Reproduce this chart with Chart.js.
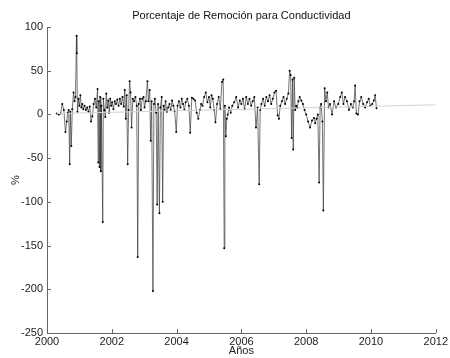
<!DOCTYPE html>
<html>
<head>
<meta charset="utf-8">
<script src="https://cdn.jsdelivr.net/npm/chart.js@4"></script>
<style>
  html, body { margin: 0; padding: 0; background: #fff; }
  #wrap { width: 450px; height: 358px; }
</style>
</head>
<body>
<div id="wrap"><canvas id="grafico"></canvas></div>
<script>
var fontFamily = '"Liberation Sans", Arial, Helvetica, sans-serif';

var titulo = 'Porcentaje de Remoción para Conductividad';

// fecha (años decimales) y % de remoción
var anios = [
    2000.30, 2000.36, 2000.42, 2000.47, 2000.52, 2000.57, 2000.61, 2000.64, 2000.67, 2000.70,
    2000.72, 2000.75, 2000.78, 2000.82, 2000.85, 2000.88, 2000.91, 2000.92, 2000.94, 2000.97,
    2001.00, 2001.03, 2001.06, 2001.09, 2001.12, 2001.16, 2001.20, 2001.24, 2001.28, 2001.32,
    2001.36, 2001.40, 2001.44, 2001.48, 2001.52, 2001.56, 2001.58, 2001.60, 2001.62, 2001.64,
    2001.66, 2001.68, 2001.72, 2001.74, 2001.77, 2001.80, 2001.83, 2001.86, 2001.89, 2001.92,
    2001.95, 2001.98, 2002.01, 2002.05, 2002.09, 2002.13, 2002.17, 2002.21, 2002.25, 2002.29,
    2002.33, 2002.37, 2002.40, 2002.43, 2002.46, 2002.49, 2002.52, 2002.55, 2002.58, 2002.61,
    2002.65, 2002.69, 2002.73, 2002.77, 2002.80, 2002.83, 2002.87, 2002.90, 2002.94, 2002.98,
    2003.01, 2003.05, 2003.10, 2003.13, 2003.17, 2003.20, 2003.23, 2003.27, 2003.30, 2003.33,
    2003.37, 2003.40, 2003.43, 2003.47, 2003.50, 2003.54, 2003.57, 2003.60, 2003.63, 2003.66,
    2003.70, 2003.74, 2003.78, 2003.82, 2003.86, 2003.90, 2003.94, 2003.99, 2004.03, 2004.07,
    2004.12, 2004.16, 2004.20, 2004.24, 2004.28, 2004.33, 2004.38, 2004.42, 2004.47, 2004.52,
    2004.57, 2004.62, 2004.67, 2004.72, 2004.76, 2004.80, 2004.85, 2004.90, 2004.95, 2005.00,
    2005.04, 2005.08, 2005.12, 2005.16, 2005.20, 2005.25, 2005.30, 2005.35, 2005.40, 2005.44,
    2005.47, 2005.49, 2005.52, 2005.55, 2005.58, 2005.62, 2005.67, 2005.72, 2005.78, 2005.84,
    2005.90, 2005.95, 2006.00, 2006.05, 2006.10, 2006.15, 2006.20, 2006.25, 2006.30, 2006.35,
    2006.40, 2006.45, 2006.50, 2006.55, 2006.58, 2006.62, 2006.67, 2006.72, 2006.77, 2006.82,
    2006.87, 2006.92, 2006.97, 2007.02, 2007.07, 2007.12, 2007.16, 2007.20, 2007.25, 2007.30,
    2007.35, 2007.40, 2007.45, 2007.49, 2007.52, 2007.55, 2007.58, 2007.60, 2007.63, 2007.66,
    2007.69, 2007.72, 2007.76, 2007.80, 2007.85, 2007.90, 2007.95, 2008.00, 2008.06, 2008.12,
    2008.18, 2008.24, 2008.28, 2008.32, 2008.36, 2008.40, 2008.43, 2008.46, 2008.50, 2008.53,
    2008.57, 2008.61, 2008.65, 2008.69, 2008.74, 2008.80, 2008.86, 2008.92, 2008.99, 2009.05,
    2009.10, 2009.15, 2009.20, 2009.26, 2009.32, 2009.38, 2009.44, 2009.48, 2009.51, 2009.55,
    2009.60, 2009.65, 2009.70, 2009.76, 2009.82, 2009.88, 2009.93, 2009.98, 2010.04, 2010.09,
    2010.13, 2010.17
];
var remocion = [
    1, 0, 1, 12, 5, -20, -8, 2, 5, -57,
    3, -36, 6, 25, 15, 20, 90, 70, 3, 18,
    10, 22, 8, 12, 6, 10, 5, 8, 3, 9,
    -8, -2, 12, 18, 8, 29, -55, 15, -60, 20,
    -65, 10, -123, 18, 5, -3, 24, 8, 16, 2,
    18, 10, 14, 6, 15, 12, 17, 10, 18, 12,
    20, 9, 28, -5, 22, -57, 5, 38, 25, -15,
    18, 15, 20, 10, -163, 12, 18, 5, 18, 20,
    8, 15, 38, 15, 28, -30, 15, -202, 12, 18,
    2, -103, 12, -113, 8, 20, -100, 10, 5, 15,
    3, 8, 12, 5, 16, 10, 4, -20, 10, 15,
    8, 18, 12, 5, 14, 18, 10, -21, 19, 18,
    16, 2, -5, 5, 12, 10, 20, 25, 14, 20,
    8, 22, 18, 5, -9, 12, 20, 6, 37, 40,
    -153, 10, -25, -5, 0, 8, 2, 10, 14, 20,
    8, 16, 12, 18, 6, 20, 12, 18, 10, 15,
    20, -15, 8, -80, 5, 12, 18, 10, 20, 15,
    22, 12, 18, 25, 27, -1, -5, 10, 15, 20,
    12, 18, 24, 50, 45, -27, 40, -40, 42, 5,
    10, 8, 15, 20, 16, 12, 5, 0, -8, -15,
    -7, -4, -10, -5, 0, -78, 8, 12, -8, -110,
    30, 15, 25, 8, 12, 0, 15, 8, 12, 20,
    25, 12, 20, 15, 5, 12, 8, 15, 33, 1,
    0, 15, 20, 12, 8, 14, 18, 10, 12, 16,
    22, 7
];

// recta de tendencia (gris claro)
var tendenciaAnios = [2000.30, 2012.00];
var tendenciaValores = [1, 11];

var ejeXMarcas = [2000, 2002, 2004, 2006, 2008, 2010, 2012];
var ejeYMarcas = [-250, -200, -150, -100, -50, 0, 50, 100];

function pares(xs, ys) {
    var out = [];
    for (var i = 0; i < xs.length; i++) out.push({ x: xs[i], y: ys[i] });
    return out;
}

// marcas de eje hacia dentro, como en MATLAB
var marcasInternas = {
    id: 'marcasInternas',
    afterDraw: function (chart) {
        var ctx = chart.ctx, area = chart.chartArea;
        var sx = chart.scales.x, sy = chart.scales.y;
        ctx.save();
        ctx.strokeStyle = '#666';
        ctx.lineWidth = 1;
        ctx.beginPath();
        ejeXMarcas.forEach(function (v) {
            var px = Math.round(sx.getPixelForValue(v)) + 0.5;
            ctx.moveTo(px, area.bottom);
            ctx.lineTo(px, area.bottom - 4);
        });
        ejeYMarcas.forEach(function (v) {
            var py = Math.round(sy.getPixelForValue(v)) + 0.5;
            ctx.moveTo(area.left, py);
            ctx.lineTo(area.left + 4, py);
        });
        ctx.stroke();
        ctx.fillStyle = '#111';
        ctx.font = '11px ' + fontFamily;
        ctx.textAlign = 'center';
        ctx.textBaseline = 'alphabetic';
        ctx.fillText(titulo, (area.left + area.right) / 2, 19);
        ctx.restore();
    }
};

function drawChart(canvasId) {
    var canvas = document.getElementById(canvasId);
    var data = {
        datasets: [{
            data: pares(tendenciaAnios, tendenciaValores),
            borderColor: '#d2d2d2',
            borderWidth: 1,
            pointRadius: 0,
            showLine: true
        }, {
            data: pares(anios, remocion),
            borderColor: '#3a3a3a',
            borderWidth: 0.7,
            pointRadius: 1,
            pointBackgroundColor: '#000',
            pointBorderWidth: 0,
            showLine: true
        }]
    };
    var tickFont = { size: 11, family: fontFamily };
    var options = {
        animation: false,
        responsive: true,
        maintainAspectRatio: false,
        layout: { padding: { top: 27, right: 12, left: 0, bottom: 0 } },
        plugins: {
            legend: { display: false },
            tooltip: { enabled: false }
        },
        scales: {
            x: {
                type: 'linear',
                min: 2000,
                max: 2012,
                afterFit: function (s) { s.height = 25; },
                afterBuildTicks: function (s) { s.ticks = ejeXMarcas.map(function (v) { return { value: v }; }); },
                grid: { display: false, drawTicks: false },
                border: { color: '#666', width: 1 },
                ticks: { color: '#222', font: tickFont, padding: 2, maxRotation: 0, autoSkip: false,
                    callback: function (v) { return String(v); } },
                title: { display: true, text: 'Años', color: '#222', font: tickFont, padding: { top: 1, bottom: 0 } }
            },
            y: {
                min: -250,
                max: 100,
                afterFit: function (s) { s.width = 47; },
                afterBuildTicks: function (s) { s.ticks = ejeYMarcas.map(function (v) { return { value: v }; }); },
                grid: { display: false, drawTicks: false },
                border: { color: '#666', width: 1 },
                ticks: { color: '#222', font: tickFont, padding: 4, autoSkip: false,
                    callback: function (v) { return String(v); } },
                title: { display: true, text: '%', color: '#222', font: tickFont, padding: { top: 9, bottom: 0 } }
            }
        }
    };

    new Chart(canvas, { type: 'scatter', data: data, options: options, plugins: [marcasInternas] });
}

drawChart('grafico');
</script>
</body>
</html>
